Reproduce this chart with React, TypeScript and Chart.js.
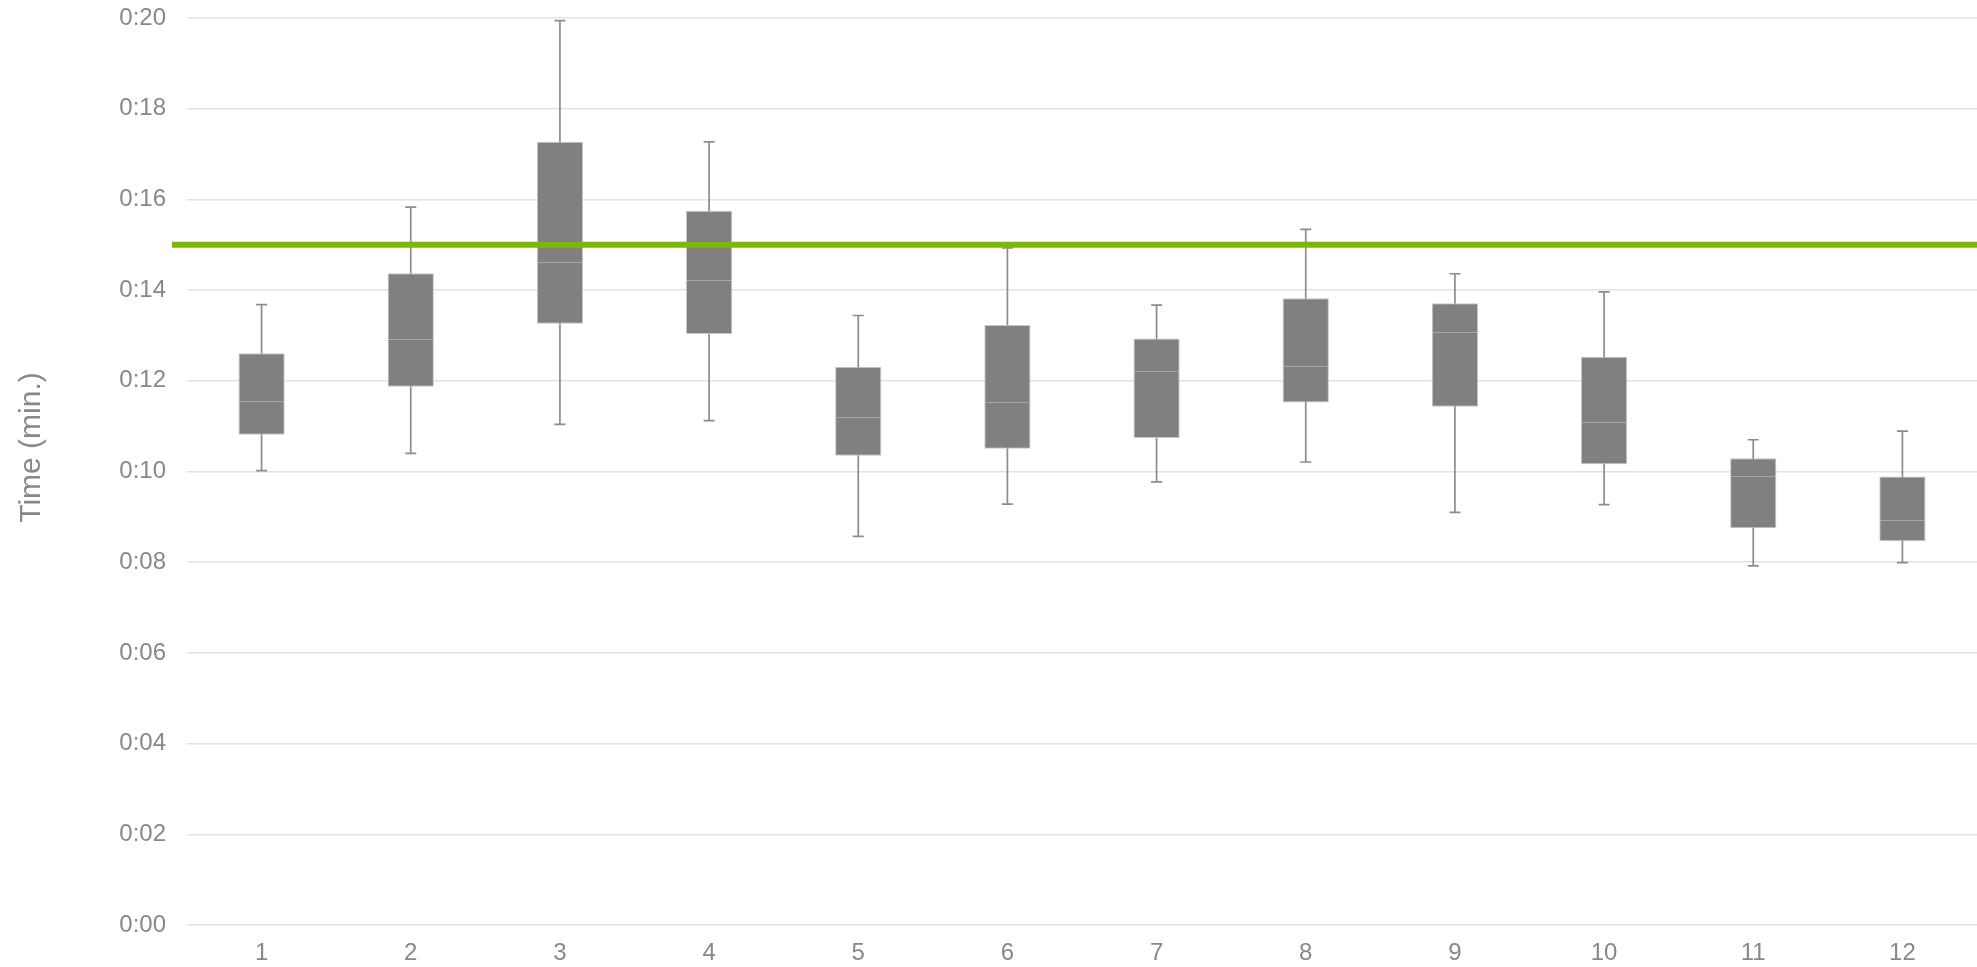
import React, { useEffect, useRef } from "react";
import { Chart, registerables } from "chart.js";

Chart.register(...registerables);

// Categories and box-plot statistics (values in seconds)
const categories = ["1", "2", "3", "4", "5", "6", "7", "8", "9", "10", "11", "12"];
const whiskerMin = [10.02, 10.4, 11.04, 11.12, 8.57, 9.28, 9.77, 10.21, 9.1, 9.27, 7.92, 7.99];
const quartile1 = [10.81, 11.87, 13.26, 13.03, 10.35, 10.5, 10.74, 11.52, 11.43, 10.16, 8.75, 8.46];
const medians = [11.55, 12.92, 14.61, 14.22, 11.2, 11.53, 12.21, 12.32, 13.07, 11.1, 9.9, 8.92];
const quartile3 = [12.61, 14.37, 17.27, 15.75, 12.31, 13.23, 12.93, 13.82, 13.71, 12.53, 10.29, 9.89];
const whiskerMax = [13.68, 15.83, 19.94, 17.27, 13.44, 14.93, 13.67, 15.34, 14.36, 13.96, 10.7, 10.89];
const targetValue = 15;
const yTickValues = [0, 2, 4, 6, 8, 10, 12, 14, 16, 18, 20];
const yAxisTitle = "Time (min.)";

const FONT = "'Liberation Sans', Arial, sans-serif";
const TEXT = "#888888";

const boxPlugin = {
  id: "boxExtras",
  beforeDatasetsDraw(chart: any) {
    const ctx = chart.ctx;
    const y = chart.scales.y;
    const meta = chart.getDatasetMeta(0);
    ctx.save();
    ctx.strokeStyle = "#8c8c8c";
    ctx.lineWidth = 1.7;
    meta.data.forEach((bar: any, i: number) => {
      const x = bar.x;
      const yMin = y.getPixelForValue(whiskerMin[i]);
      const yMax = y.getPixelForValue(whiskerMax[i]);
      const cap = 5.5;
      ctx.beginPath();
      ctx.moveTo(x, yMin);
      ctx.lineTo(x, yMax);
      ctx.moveTo(x - cap, yMin);
      ctx.lineTo(x + cap, yMin);
      ctx.moveTo(x - cap, yMax);
      ctx.lineTo(x + cap, yMax);
      ctx.stroke();
    });
    ctx.restore();
  },
  afterDatasetsDraw(chart: any) {
    const ctx = chart.ctx;
    const y = chart.scales.y;
    const area = chart.chartArea;
    const meta = chart.getDatasetMeta(0);
    ctx.save();
    ctx.strokeStyle = "#a8a8a8";
    ctx.lineWidth = 1;
    meta.data.forEach((bar: any, i: number) => {
      const half = bar.width / 2;
      const ym = Math.round(y.getPixelForValue(medians[i])) + 0.5;
      ctx.beginPath();
      ctx.moveTo(bar.x - half + 1, ym);
      ctx.lineTo(bar.x + half - 1, ym);
      ctx.stroke();
    });
    // target line
    const yt = y.getPixelForValue(targetValue);
    ctx.strokeStyle = "#7cb900";
    ctx.lineWidth = 6;
    ctx.beginPath();
    ctx.moveTo(area.left - 15, yt);
    ctx.lineTo(area.right, yt);
    ctx.stroke();
    // y-axis title
    ctx.fillStyle = TEXT;
    ctx.font = "30px " + FONT;
    ctx.textAlign = "center";
    ctx.textBaseline = "middle";
    ctx.translate(32, (area.top + area.bottom) / 2 - 24);
    ctx.rotate(-Math.PI / 2);
    ctx.fillText(yAxisTitle, 0, 0);
    ctx.restore();
  },
};

export default function App() {
  const canvasRef = useRef<HTMLCanvasElement | null>(null);

  useEffect(() => {
    if (!canvasRef.current) return;
    const chart = new Chart(canvasRef.current, {
      type: "bar",
      data: {
        labels: categories,
        datasets: [
          {
            label: "Box",
            data: quartile1.map((q, i) => [q, quartile3[i]]) as any,
            backgroundColor: "#808080",
            borderColor: "#c6c6c6",
            borderWidth: 1,
            borderSkipped: false,
            barPercentage: 0.31,
            categoryPercentage: 1,
          },
        ],
      },
      options: {
        responsive: false,
        animation: false,
        devicePixelRatio: 1,
        layout: { padding: { top: 18, right: 0, bottom: 0, left: 0 } },
        plugins: {
          legend: { display: false },
          tooltip: { enabled: false },
          title: { display: false },
        },
        scales: {
          x: {
            grid: { display: false, drawTicks: false },
            border: { display: false },
            ticks: {
              color: TEXT,
              font: { family: FONT, size: 24 },
              padding: 14,
              maxRotation: 0,
            },
            afterFit(scale: any) {
              scale.height = 42;
            },
          },
          y: {
            min: 0,
            max: 20,
            afterBuildTicks(scale: any) {
              scale.ticks = yTickValues.map((v) => ({ value: v }));
            },
            grid: { color: "#e2e2e2", lineWidth: 1.5, drawTicks: false },
            border: { display: false },
            ticks: {
              color: TEXT,
              font: { family: FONT, size: 24 },
              padding: 21,
              callback: (v: any) => "0:" + String(v).padStart(2, "0"),
            },
            title: { display: false },
            afterFit(scale: any) {
              scale.width = 187;
              scale.paddingTop = 0;
              scale.paddingBottom = 0;
            },
          },
        },
      },
      plugins: [boxPlugin],
    });
    return () => chart.destroy();
  }, []);

  return (
    <div style={{ position: "absolute", left: 0, top: 0, width: 1977, height: 967, background: "#ffffff" }}>
      <canvas ref={canvasRef} width={1977} height={967} style={{ display: "block" }} />
    </div>
  );
}
